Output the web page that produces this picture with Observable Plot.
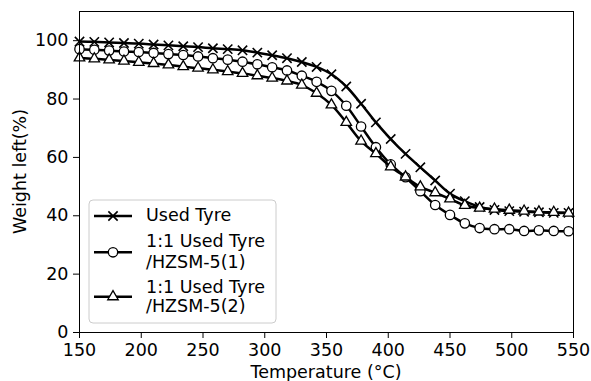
<!DOCTYPE html>
<html><head><meta charset="utf-8">
<script src="https://cdn.jsdelivr.net/npm/d3@7"></script>
<script src="https://cdn.jsdelivr.net/npm/@observablehq/plot@0.6"></script>
<style>body{margin:0;background:#fff}</style>
</head><body><div id="chart"></div>
<script>
// Temperature (°C) of the sampled points
const temps = [150,162,174,186,198,210,222,234,246,258,270,282,294,306,318,330,342,354,366,378,390,402,414,426,438,450,462,474,486,498,510,522,534,546];
// Weight left (%)
const usedTyre = [99.7,99.6,99.4,99.2,99.0,98.7,98.4,98.1,97.8,97.4,97.1,96.7,95.9,95.0,94.0,92.7,91.0,88.5,84.3,78.4,72.0,66.3,61.2,56.6,52.1,47.6,45.0,43.0,42.0,41.6,41.4,41.2,41.0,41.0];
const hzsm1 = [97.1,96.9,96.6,96.3,96.1,95.8,95.4,95.1,94.6,94.0,93.5,92.8,91.9,90.9,89.8,88.0,85.9,82.8,77.7,70.6,63.5,57.6,53.2,48.4,43.7,40.3,37.4,35.8,35.4,35.4,34.8,35.0,34.8,34.7];
const hzsm2 = [94.1,93.8,93.4,93.0,92.6,92.2,91.7,91.1,90.6,90.0,89.4,88.8,88.0,87.2,86.2,84.8,82.0,78.0,72.0,65.6,61.3,56.8,53.3,49.9,47.9,45.8,43.6,42.6,42.3,41.9,41.6,41.3,41.2,40.9];
const seriesNames = [["Used Tyre"], ["1:1 Used Tyre", "/HZSM-5(1)"], ["1:1 Used Tyre", "/HZSM-5(2)"]];
const xTicks = [150,200,250,300,350,400,450,500,550];
const yTicks = [0,20,40,60,80,100];
const xLabel = "Temperature (°C)";
const yLabel = "Weight left(%)";

const FS = "17.5px";
const symbolDefs = [
  {symbol: "times", d3sym: d3.symbolTimes, r: 4.3, fill: "none", sw: 1.6},
  {symbol: "circle", d3sym: d3.symbolCircle, r: 4.7, fill: "white", sw: 1.3},
  {symbol: "triangle", d3sym: d3.symbolTriangle, r: 3.9, fill: "white", sw: 1.3}
];
const valueSets = [usedTyre, hzsm1, hzsm2];
const series = valueSets.map((vals, k) => ({
  rows: temps.map((t, i) => ({t, w: vals[i]})),
  ...symbolDefs[k]
}));

const LW = 2.5;
const marks = [];
for (const s of series) {
  marks.push(Plot.line(s.rows, {x: "t", y: "w", stroke: "black", strokeWidth: LW, curve: "catmull-rom"}));
  marks.push(Plot.dot(s.rows, {x: "t", y: "w", symbol: () => s.symbol, r: s.r, fill: s.fill, stroke: "black", strokeWidth: s.sw}));
}
marks.push(Plot.frame({stroke: "black", strokeWidth: 1}));

const svg = Plot.plot({
  width: 591,
  height: 381,
  marginLeft: 79,
  marginRight: 18,
  marginTop: 11,
  marginBottom: 49,
  style: {fontFamily: "DejaVu Sans", fontSize: FS, color: "black", background: "white"},
  x: {domain: [150, 550], ticks: xTicks, tickSize: 6, tickPadding: 5, label: null},
  y: {domain: [0, 110], ticks: yTicks, tickSize: 6, tickPadding: 5, label: null},
  symbol: {type: "identity"},
  marks
});
document.getElementById("chart").appendChild(svg);

const g = d3.select(svg);
// axis labels
g.append("text").attr("x", 326).attr("y", 378).attr("text-anchor", "middle")
  .attr("fill", "black").style("font-size", FS).text(xLabel);
g.append("text").attr("transform", "translate(26,171.5) rotate(-90)").attr("text-anchor", "middle")
  .attr("fill", "black").style("font-size", FS).text(yLabel);

// legend
const lg = g.append("g").attr("text-anchor", "start");
lg.append("rect").attr("x", 89).attr("y", 200).attr("width", 187).attr("height", 123)
  .attr("rx", 4).attr("fill", "white").attr("fill-opacity", 0.8).attr("stroke", "#cccccc").attr("stroke-width", 1);
const itemY = [216, 252.3, 296.7];
const textBase = [[221.3], [247.3, 268], [293, 312.3]];
series.forEach((s, k) => {
  const y = itemY[k];
  lg.append("line").attr("x1", 94).attr("x2", 132).attr("y1", y).attr("y2", y)
    .attr("stroke", "black").attr("stroke-width", LW);
  lg.append("path").attr("transform", `translate(113,${y})`)
    .attr("d", d3.symbol(s.d3sym, Math.PI * s.r * s.r)())
    .attr("fill", s.fill).attr("stroke", "black").attr("stroke-width", s.sw);
  seriesNames[k].forEach((line, j) => {
    lg.append("text").attr("x", 146).attr("y", textBase[k][j]).attr("fill", "black")
      .attr("text-anchor", "start").style("font-size", FS).text(line);
  });
});
</script></body></html>
